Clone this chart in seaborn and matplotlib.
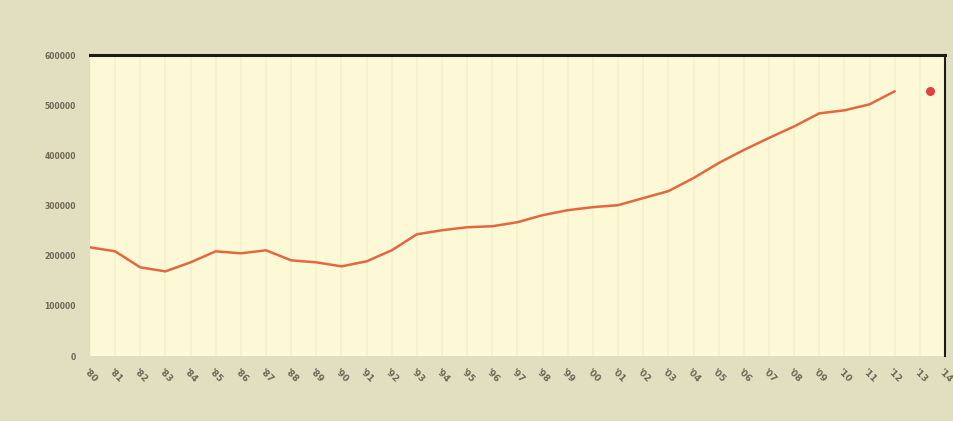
import pandas as pd
import numpy as np
import matplotlib.pyplot as plt
import seaborn as sns

sns.set_theme(style="white")

# tick labels along the x axis (35 periods)
periods = ["'%02d" % (y % 100) for y in range(1980, 2015)]

# main series (first 33 periods)
values = [217000, 209000, 177000, 169000, 187000, 209000, 205000, 211000,
          191000, 187000, 179000, 189000, 211000, 243000, 251000, 257000,
          259000, 267000, 281000, 291000, 297000, 301000, 315000, 329000,
          355000, 385000, 411000, 435000, 458000, 484000, 490000, 502000,
          528000]

# single point shown apart from the line
extra_period = 33
extra_value = 528000

y_ticks = [0, 100000, 200000, 300000, 400000, 500000, 600000]

df = pd.DataFrame({"x": range(len(values)), "value": values})

fig = plt.figure(figsize=(9.54, 4.21), dpi=100, facecolor="#e2dfc1")
ax = fig.add_axes([0.0943, 0.154, 0.8963, 0.715])
ax.set_facecolor("#fdf9d7")

# faint vertical stripes
for i in range(len(periods)):
    ax.axvline(i, color="#f5f1cf", lw=1.2, zorder=0)

sns.lineplot(data=df, x="x", y="value", ax=ax, color="#e4683f", lw=1.8)
ax.scatter([extra_period + 0.4], [extra_value], color="#e0433a", s=30, zorder=3)

ax.set_xlim(0, len(periods) - 1)
ax.set_ylim(0, 600000)
ax.set_xticks(range(len(periods)))
ax.set_xticklabels(periods, rotation=-45, ha="center", va="top",
                   fontsize=6.5, color="#6f6656", fontweight="bold")
ax.set_yticks(y_ticks)
ax.set_yticklabels([str(v) for v in y_ticks], fontsize=5.5,
                   color="#6f6656", fontweight="bold")
ax.tick_params(axis="x", length=0, pad=8)
ax.tick_params(axis="y", length=0, pad=10)
ax.set_xlabel("")
ax.set_ylabel("")

for s in ["left", "bottom"]:
    ax.spines[s].set_visible(False)
ax.spines["top"].set_color("#1e1c16")
ax.spines["top"].set_linewidth(2.2)
ax.spines["right"].set_color("#1e1c16")
ax.spines["right"].set_linewidth(1.5)

fig.savefig("out.png", dpi=100, facecolor=fig.get_facecolor())
